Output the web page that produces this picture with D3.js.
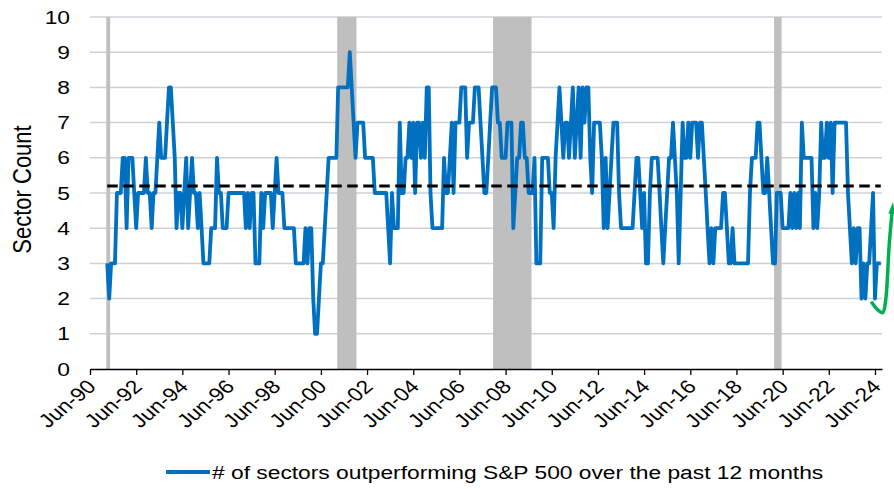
<!DOCTYPE html>
<html>
<head>
<meta charset="utf-8">
<script src="https://cdnjs.cloudflare.com/ajax/libs/d3/7.8.5/d3.min.js"></script>
<style>
body { margin: 0; background: #fff; }
text { font-family: "Liberation Sans", Arial, sans-serif; fill: #000; }
</style>
</head>
<body>
<script>
// monthly sector counts (first month = startMonth)
var startMonth = "1991-03";
var counts = [
    3,2,3,3,3,5,5,5,6,6,            // 1991 Mar-Dec
    4,6,6,6,5,4,5,5,5,5,6,5,        // 1992
    5,4,5,5,6,7,6,6,6,7,8,8,        // 1993
    7,6,4,5,5,4,5,6,4,5,6,5,        // 1994
    5,4,5,4,3,3,3,3,4,4,4,6,        // 1995
    5,5,4,4,4,5,5,5,5,5,5,5,        // 1996
    5,5,4,5,4,5,5,3,3,3,5,4,        // 1997
    5,5,5,5,4,5,6,5,5,5,4,4,        // 1998
    4,4,4,4,3,3,3,3,3,4,3,4,        // 1999
    4,2,1,1,2,3,3,4,5,6,6,6,        // 2000
    6,6,8,8,8,8,8,8,9,8,7,6,        // 2001
    7,7,7,7,6,6,6,6,6,5,5,5,        // 2002
    5,5,5,5,4,3,5,4,4,4,7,5,        // 2003
    5,6,6,7,6,7,5,7,7,6,7,6,        // 2004
    8,8,5,4,4,4,4,4,4,6,5,5,        // 2005
    6,7,5,7,7,7,8,8,8,6,7,7,        // 2006
    7,8,8,8,7,6,5,5,6,7,8,8,        // 2007
    8,7,7,6,6,6,7,7,7,4,5,6,        // 2008
    6,7,7,6,6,5,5,5,6,3,3,3,        // 2009
    6,6,6,6,5,5,4,6,7,8,7,6,        // 2010
    7,7,6,7,8,6,7,8,6,8,7,8,        // 2011
    8,6,5,7,7,7,7,6,4,6,4,5,        // 2012
    6,7,7,7,5,4,4,4,4,4,4,4,        // 2013
    5,6,6,5,4,5,3,3,5,6,6,6,        // 2014
    6,5,4,3,4,5,6,6,7,6,5,3,        // 2015
    5,7,6,6,7,6,7,7,7,6,7,7,        // 2016
    6,5,4,3,4,3,4,4,4,4,5,5,        // 2017
    4,3,3,4,3,3,3,3,3,3,3,3,        // 2018
    5,6,6,6,7,7,6,5,5,6,5,4,        // 2019
    3,3,5,5,5,4,4,4,4,5,4,5,        // 2020
    4,5,4,7,6,6,6,6,6,4,5,4,        // 2021
    5,7,6,6,7,6,7,5,7,7,7,7,        // 2022
    7,7,7,5,4,3,4,3,4,4,2,3,        // 2023
    2,3,3,4,5,2,3,3,3               // 2024 Jan-Sep
];

// long run average (dashed line)
var avgLevel = 5.2;

// shaded recessions
var recessionStarts = ["1990-07", "2001-03", "2007-12", "2020-02"];
var recessionEnds   = ["1991-04", "2001-12", "2009-07", "2020-05"];

var yTicks = [0, 1, 2, 3, 4, 5, 6, 7, 8, 9, 10];
var xTickLabels = ["Jun-90", "Jun-92", "Jun-94", "Jun-96", "Jun-98", "Jun-00", "Jun-02", "Jun-04", "Jun-06",
                   "Jun-08", "Jun-10", "Jun-12", "Jun-14", "Jun-16", "Jun-18", "Jun-20", "Jun-22", "Jun-24"];
var yTitle = "Sector Count";
var legendLabel = "# of sectors outperforming S&P 500 over the past 12 months";

// green arrow annotation (date, level)
var arrowDates  = ["2024-04-15", "2024-07-15", "2024-10-01", "2024-11-18", "2025-01-10", "2025-02-25"];
var arrowLevels = [1.88, 1.68, 1.6, 1.97, 3.48, 4.44];

// Define Margin
var margin = {left: 90, right: 12, top: 17, bottom: 120},
    width = 894 - margin.left - margin.right,
    height = 489 - margin.top - margin.bottom;

var stretch = 1.2;   // text in the picture is a bit wide
var blue = "#0070c0", green = "#00b050";

var parseMonth = d3.timeParse("%Y-%m"),
    parseDay = d3.timeParse("%Y-%m-%d"),
    parseTick = d3.timeParse("%b-%y");

var start = parseMonth(startMonth);
var data = counts.map(function(v, i) {
    return {date: d3.timeMonth.offset(start, i), value: v};
});
var firstDate = data[0].date,
    lastDate = data[data.length - 1].date;

var svg = d3.select("body")
    .append("svg")
    .attr("width", 894)
    .attr("height", 489);

var g = svg.append("g")
    .attr("transform", "translate(" + margin.left + "," + margin.top + ")");

var x = d3.scaleTime()
    .domain([parseTick(xTickLabels[0]), new Date(2024, 8, 20)])
    .range([0, width]);

var y = d3.scaleLinear()
    .domain([0, 10])
    .range([height, 0]);

// gridlines
g.append("g")
    .selectAll("line")
    .data(yTicks.slice(1))
    .enter().append("line")
        .attr("x1", 0)
        .attr("x2", width)
        .attr("y1", function(d) { return y(d); })
        .attr("y2", function(d) { return y(d); })
        .attr("stroke", "#cdd1d6")
        .attr("stroke-width", 1.5);

// recession bars, only where the series has data
var recessions = recessionStarts.map(function(s, i) {
    var a = parseMonth(s), b = parseMonth(recessionEnds[i]);
    if (a < firstDate) a = firstDate;
    return [d3.timeDay.offset(a, -15), d3.timeDay.offset(b, 15)];
});

g.append("g")
    .selectAll("rect")
    .data(recessions)
    .enter().append("rect")
        .attr("x", function(d) { return x(d[0]); })
        .attr("width", function(d) { return x(d[1]) - x(d[0]); })
        .attr("y", y(10))
        .attr("height", y(0) - y(10))
        .attr("fill", "#bfbfbf");

// the series
var line = d3.line()
    .x(function(d) { return x(d.date); })
    .y(function(d) { return y(d.value); });

g.append("path")
    .datum(data)
    .attr("fill", "none")
    .attr("stroke", blue)
    .attr("stroke-width", 3.8)
    .attr("stroke-linejoin", "round")
    .attr("d", line);

// average
g.append("line")
    .attr("x1", x(firstDate))
    .attr("x2", x(lastDate))
    .attr("y1", y(avgLevel))
    .attr("y2", y(avgLevel))
    .attr("stroke", "#000")
    .attr("stroke-width", 3)
    .attr("stroke-dasharray", "10.5,5.5");

// x axis
var tickDates = xTickLabels.map(function(t) { return parseTick(t); });

var xAxis = g.append("g")
    .attr("transform", "translate(0," + height + ")")
    .call(d3.axisBottom(x)
        .tickValues(tickDates)
        .tickSize(6)
        .tickSizeOuter(0)
        .tickFormat(function(d, i) { return xTickLabels[i]; }));

xAxis.attr("font-size", null).attr("font-family", null);
xAxis.select(".domain").attr("stroke", "#000").attr("stroke-width", 1.4);
xAxis.selectAll(".tick line").attr("stroke", "#000").attr("stroke-width", 1.3);
xAxis.selectAll(".tick text")
    .attr("y", 0)
    .attr("dy", "0.35em")
    .attr("text-anchor", "end")
    .attr("font-size", "19px")
    .attr("transform", "translate(1,14) scale(" + stretch + ",1) rotate(-45)");

// y tick labels (no axis line)
g.append("g")
    .selectAll("text")
    .data(yTicks)
    .enter().append("text")
        .attr("transform", function(d) { return "translate(-20," + y(d) + ") scale(" + stretch + ",1)"; })
        .attr("dy", "0.35em")
        .attr("text-anchor", "end")
        .attr("font-size", "19px")
        .text(function(d) { return d; });

// y title
svg.append("text")
    .attr("transform", "translate(22," + (margin.top + y(5.1)) + ") scale(" + stretch + ",1) rotate(-90)")
    .attr("dy", "0.35em")
    .attr("text-anchor", "middle")
    .attr("font-size", "22px")
    .text(yTitle);

// green arrow
svg.append("defs").append("marker")
    .attr("id", "arrowHead")
    .attr("viewBox", "0 0 10 10")
    .attr("refX", 1)
    .attr("refY", 5)
    .attr("markerUnits", "userSpaceOnUse")
    .attr("markerWidth", 12)
    .attr("markerHeight", 7)
    .attr("preserveAspectRatio", "none")
    .attr("orient", "auto")
    .append("path")
        .attr("d", "M0,0L10,5L0,10z")
        .attr("fill", green);

var arrowPts = arrowDates.map(function(d, i) { return [parseDay(d), arrowLevels[i]]; });

g.append("path")
    .datum(arrowPts)
    .attr("fill", "none")
    .attr("stroke", green)
    .attr("stroke-width", 3.5)
    .attr("stroke-linecap", "round")
    .attr("marker-end", "url(#arrowHead)")
    .attr("d", d3.line()
        .curve(d3.curveCatmullRom.alpha(0.5))
        .x(function(d) { return x(d[0]); })
        .y(function(d) { return y(d[1]); }));

// legend
var legend = svg.append("g")
    .attr("transform", "translate(166,472)");

legend.append("line")
    .attr("x1", 0)
    .attr("x2", 44)
    .attr("stroke", blue)
    .attr("stroke-width", 4);

legend.append("text")
    .attr("transform", "translate(46,0) scale(" + stretch + ",1)")
    .attr("dy", "0.35em")
    .attr("font-size", "19px")
    .text(legendLabel);
</script>
</body>
</html>
